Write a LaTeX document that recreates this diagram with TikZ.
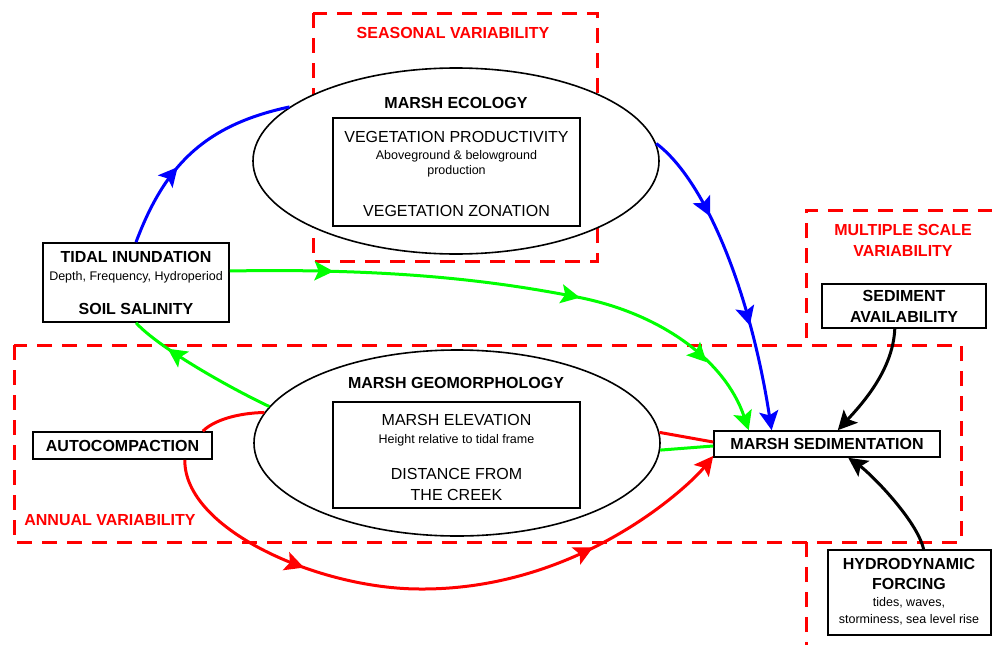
\documentclass[tikz,border=0pt]{standalone}
\usepackage{fontspec}
\setmainfont{Liberation Sans}
\usetikzlibrary{shapes.geometric,arrows.meta,decorations.markings}

\tikzset{
  flowtip/.tip={Stealth[length=19pt,width=19pt,inset=4pt]},
  boldtxt/.style={font=\bfseries\fontsize{16}{21}\selectfont},
  bodytxt/.style={font=\fontsize{16}{21}\selectfont},
  smalltxt/.style={font=\fontsize{12.5}{15}\selectfont},
  txtline/.style={anchor=base,inner sep=0pt},
  scalezone/.style={draw=red,line width=3pt,dash pattern=on 15pt off 10pt},
  bubble/.style={ellipse,draw,fill=white,line width=1.6pt,minimum width=406pt,minimum height=186pt,inner sep=0pt},
  factorbox/.style={rectangle,draw,fill=white,line width=1.6pt,inner sep=0pt},
  flowline/.style={line width=3pt},
  tipat/.style={postaction={decorate,decoration={markings,mark=at position #1 with {\arrow{flowtip}}}}},
}

\begin{document}
\begin{tikzpicture}[x=1pt,y=1pt]
  \useasboundingbox (0,0) rectangle (992,-645);
  % Scale zones
  \draw[scalezone] (313,-13) rectangle (597,-261);
  \draw[scalezone] (14,-345) rectangle (961,-542);
  \draw[scalezone] (806,-338) -- (806,-210) -- (992,-210);
  \draw[scalezone] (806,-542) -- (806,-645);
  \node[txtline, boldtxt, text=red] (seaslabel) at (453,-38.5) {SEASONAL VARIABILITY};
  \node[txtline, boldtxt, text=red] (annlabel) at (110,-525.7) {ANNUAL VARIABILITY};
  \node[txtline, boldtxt, text=red] (multlabel) at (903,-235.7) {MULTIPLE SCALE};
  \node[txtline, boldtxt, text=red] (multlabelb) at (903,-256) {VARIABILITY};

  % Define nodes
  \node[bubble] (eco) at (456,-161) {};
  \node[txtline, boldtxt] (ecotitle) at (456,-108) {MARSH ECOLOGY};
  \node[factorbox, minimum width=247pt, minimum height=108pt] (vegbox) at (456.5,-172) {};
  \node[txtline, bodytxt] (vegprod) at (456.5,-142.5) {VEGETATION PRODUCTIVITY};
  \node[txtline, smalltxt] (vegnote) at (456.5,-159.5) {Aboveground \& belowground};
  \node[txtline, smalltxt] (vegnoteb) at (456.5,-174.5) {production};
  \node[txtline, bodytxt] (vegzone) at (456.5,-216) {VEGETATION ZONATION};

  \node[bubble] (geo) at (457,-443) {};
  \node[txtline, boldtxt] (geotitle) at (456,-388.5) {MARSH GEOMORPHOLOGY};
  \node[factorbox, minimum width=247pt, minimum height=106pt] (elevbox) at (456.5,-455) {};
  \node[txtline, bodytxt] (elev) at (456.5,-425) {MARSH ELEVATION};
  \node[txtline, smalltxt] (elevnote) at (456.5,-443) {Height relative to tidal frame};
  \node[txtline, bodytxt] (creek) at (456.5,-479) {DISTANCE FROM};
  \node[txtline, bodytxt] (creekb) at (456.5,-500) {THE CREEK};

  \node[factorbox, minimum width=186pt, minimum height=79pt] (tidal) at (136,-282.5) {};
  \node[txtline, boldtxt] (tidaltitle) at (136,-262.5) {TIDAL INUNDATION};
  \node[txtline, smalltxt] (tidalnote) at (136,-280) {Depth, Frequency, Hydroperiod};
  \node[txtline, boldtxt] (salinity) at (136,-314) {SOIL SALINITY};

  \node[factorbox, boldtxt, minimum width=179pt, minimum height=27pt] (autoc) at (122.5,-445.5) {AUTOCOMPACTION};
  \node[factorbox, boldtxt, minimum width=226pt, minimum height=26pt] (sed) at (827,-444) {MARSH SEDIMENTATION};
  \node[factorbox, boldtxt, align=center, minimum width=164pt, minimum height=44pt] (sedav) at (904,-306) {SEDIMENT\\AVAILABILITY};

  \node[factorbox, minimum width=163pt, minimum height=85pt] (hydro) at (909.5,-592.5) {};
  \node[txtline, boldtxt] (hydrotitle) at (909,-569.5) {HYDRODYNAMIC};
  \node[txtline, boldtxt] (hydrotitleb) at (909,-589) {FORCING};
  \node[txtline, smalltxt] (hydronote) at (909,-606.7) {tides, waves,};
  \node[txtline, smalltxt] (hydronoteb) at (909,-623.3) {storminess, sea level rise};

  % Connect the nodes
  \draw[flowline, blue, tipat=0.4] (tidal.north) .. controls (165,-165) and (205,-125) .. (eco.162);
  \draw[flowline, blue, tipat=0.29, tipat=0.66, -flowtip] (eco.5) .. controls (705,-180) and (750,-290) .. (sed.166.9);
  \draw[flowline, green, tipat=0.18, tipat=0.61, tipat=0.86, -flowtip] (tidal.7) .. controls (400,-268) and (500,-282) .. (577,-297) .. controls (660,-313) and (725,-360) .. (sed.170.2);
  \draw[flowline, green, tipat=0.74] (geo.169) .. controls (226,-386) and (158,-347) .. (tidal.south);
  \draw[flowline, green] (geo.-2) -- (sed.181);
  \draw[flowline, red] (geo.3) -- (sed.179);
  \draw[flowline, red] (geo.171) .. controls (238,-413) and (214,-420) .. ([xshift=-10pt]autoc.north east);
  \draw[flowline, red, tipat=0.274, tipat=0.755, -flowtip] ([xshift=-28pt]autoc.south east) .. controls (184,-530) and (320,-589) .. (420,-589) .. controls (580,-590) and (690,-485) .. (sed.-174);
  \draw[flowline, -flowtip] (sedav.-112) .. controls (893,-370) and (862,-404) .. (sed.52.4);
  \draw[flowline, -flowtip] (hydro.72) .. controls (917,-520) and (870,-473) .. (sed.-33);
\end{tikzpicture}
\end{document}
